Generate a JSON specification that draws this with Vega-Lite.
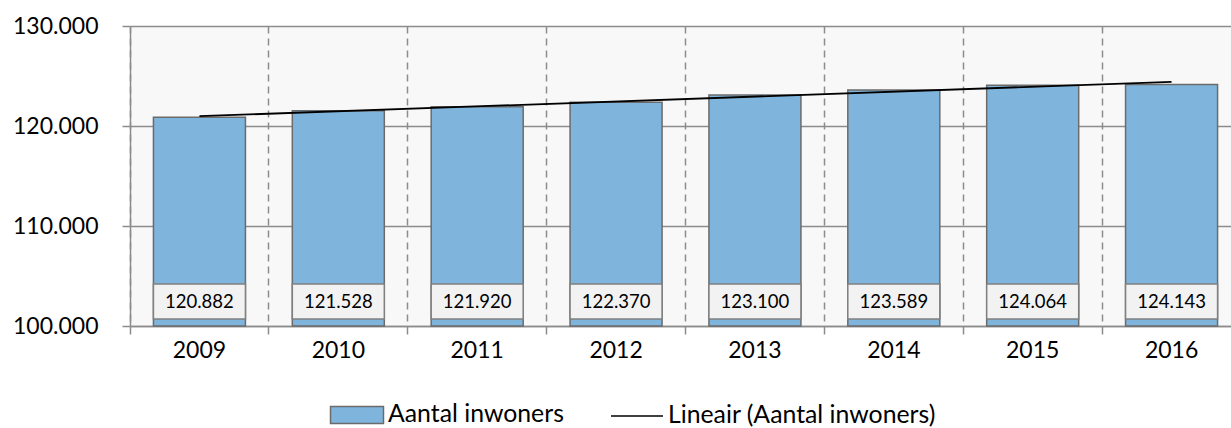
{
  "$schema": "https://vega.github.io/schema/vega-lite/v6.json",
  "autosize": {"type": "none"},
  "padding": {"left": 130, "top": 26, "right": 0, "bottom": 102},
  "width": 1101,
  "height": 300,
  "background": "white",
  "data": {
    "values": [
      {"year": 2009, "value": 120882},
      {"year": 2010, "value": 121528},
      {"year": 2011, "value": 121920},
      {"year": 2012, "value": 122370},
      {"year": 2013, "value": 123100},
      {"year": 2014, "value": 123589},
      {"year": 2015, "value": 124064},
      {"year": 2016, "value": 124143}
    ]
  },
  "encoding": {
    "x": {
      "field": "year",
      "type": "ordinal",
      "scale": {"range": [0, 1111], "paddingInner": 0, "paddingOuter": 0},
      "axis": {
        "title": null,
        "labelAngle": 0,
        "bandPosition": 0,
        "grid": true,
        "gridDash": [7, 5],
        "gridColor": "#8c8c8c",
        "gridWidth": 1.5,
        "domainColor": "#8c8c8c",
        "domainWidth": 1.5,
        "tickColor": "#8c8c8c",
        "tickWidth": 1.5,
        "tickSize": 8,
        "labelFont": "Lato",
        "labelFontSize": 23,
        "labelColor": "#000000",
        "labelPadding": 5
      }
    }
  },
  "layer": [
    {
      "mark": {"type": "bar", "width": {"band": 0.6625}, "stroke": "#6b6b6b", "strokeWidth": 1.5},
      "encoding": {
        "y": {
          "field": "value",
          "type": "quantitative",
          "scale": {"domain": [100000, 130000], "zero": false, "nice": false},
          "axis": {
            "title": null,
            "values": [100000, 110000, 120000, 130000],
            "labelExpr": "format(datum.value, ',')",
            "grid": true,
            "gridColor": "#8c8c8c",
            "gridWidth": 1.5,
            "domainColor": "#8c8c8c",
            "domainWidth": 1.5,
            "tickColor": "#8c8c8c",
            "tickWidth": 1.5,
            "tickSize": 8,
            "labelFont": "Lato",
            "labelFontSize": 23,
            "labelColor": "#000000",
            "labelPadding": 24
          }
        },
        "y2": {"datum": 100000},
        "fill": {
          "datum": "Aantal inwoners",
          "type": "nominal",
          "scale": {"range": ["#7fb5dc"]},
          "legend": {
            "orient": "none",
            "legendX": 213,
            "legendY": 375,
            "title": null,
            "symbolType": "M-2,-0.64H2V0.64H-2Z",
            "symbolSize": 702,
            "symbolStrokeColor": "#6b6b6b",
            "symbolStrokeWidth": 1.5,
            "symbolOpacity": 1,
            "labelFont": "Lato",
            "labelFontSize": 24.8,
            "labelLimit": 500,
            "labelColor": "#000000",
            "labelOffset": 17
          }
        }
      }
    },
    {
      "mark": {"type": "bar", "width": {"band": 0.6625}, "fill": "#f2f2f2", "stroke": "#808080", "strokeWidth": 1.5},
      "encoding": {
        "y": {
          "datum": 100700,
          "type": "quantitative",
          "axis": {
            "title": null,
            "values": [100000, 110000, 120000, 130000],
            "labelExpr": "format(datum.value, ',')",
            "grid": true,
            "gridColor": "#8c8c8c",
            "gridWidth": 1.5,
            "domainColor": "#8c8c8c",
            "domainWidth": 1.5,
            "tickColor": "#8c8c8c",
            "tickWidth": 1.5,
            "tickSize": 8,
            "labelFont": "Lato",
            "labelFontSize": 23,
            "labelColor": "#000000",
            "labelPadding": 24
          }
        },
        "y2": {"datum": 104200}
      }
    },
    {
      "mark": {"type": "text", "font": "Lato", "fontSize": 18.5, "color": "#000000", "baseline": "middle", "align": "center"},
      "encoding": {
        "y": {
          "datum": 102450,
          "type": "quantitative",
          "axis": {
            "title": null,
            "values": [100000, 110000, 120000, 130000],
            "labelExpr": "format(datum.value, ',')",
            "grid": true,
            "gridColor": "#8c8c8c",
            "gridWidth": 1.5,
            "domainColor": "#8c8c8c",
            "domainWidth": 1.5,
            "tickColor": "#8c8c8c",
            "tickWidth": 1.5,
            "tickSize": 8,
            "labelFont": "Lato",
            "labelFontSize": 23,
            "labelColor": "#000000",
            "labelPadding": 24
          }
        },
        "text": {"field": "value", "type": "quantitative", "format": ","}
      }
    },
    {
      "transform": [{"regression": "value", "on": "year"}],
      "mark": {"type": "line", "strokeWidth": 1.8},
      "encoding": {
        "y": {
          "field": "value",
          "type": "quantitative",
          "axis": {
            "title": null,
            "values": [100000, 110000, 120000, 130000],
            "labelExpr": "format(datum.value, ',')",
            "grid": true,
            "gridColor": "#8c8c8c",
            "gridWidth": 1.5,
            "domainColor": "#8c8c8c",
            "domainWidth": 1.5,
            "tickColor": "#8c8c8c",
            "tickWidth": 1.5,
            "tickSize": 8,
            "labelFont": "Lato",
            "labelFontSize": 23,
            "labelColor": "#000000",
            "labelPadding": 24
          }
        },
        "stroke": {
          "datum": "Lineair (Aantal inwoners)",
          "type": "nominal",
          "scale": {"range": ["#000000"]},
          "legend": {
            "orient": "none",
            "legendX": 493,
            "legendY": 376,
            "title": null,
            "symbolType": "M-2,0H2",
            "symbolSize": 676,
            "symbolStrokeWidth": 1.5,
            "labelFont": "Lato",
            "labelFontSize": 24.8,
            "labelLimit": 500,
            "labelColor": "#000000",
            "labelOffset": 17
          }
        }
      }
    }
  ],
  "config": {
    "view": {"stroke": null, "fill": "#f8f8f8"},
    "locale": {"number": {"decimal": ",", "thousands": ".", "grouping": [3], "currency": ["€", ""]}}
  }
}
